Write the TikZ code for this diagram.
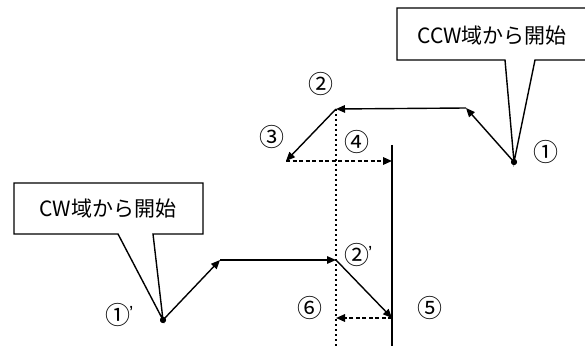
\documentclass[tikz,border=0pt]{standalone}
\usepackage{fontspec}
\setmainfont{Noto Sans CJK JP}
\newfontfamily\latinfont{Liberation Sans}
\usetikzlibrary{arrows.meta}
\newcommand{\primemark}{\kern-1pt\raisebox{5pt}{\latinfont\fontsize{19}{20}\selectfont ’}}
\tikzset{
  tip/.style={-{Triangle[length=9pt,width=7.5pt]}},
  solidline/.style={line width=1.4pt},
  dashline/.style={line width=1.6pt, dash pattern=on 4pt off 2.5pt},
  dotline/.style={line width=1.6pt, dash pattern=on 1.6pt off 3.4pt},
  callout/.style={draw, line width=1.4pt, fill=white, line join=miter},
  calltext/.style={font=\fontsize{21}{24}\selectfont, inner sep=0pt},
  numlabel/.style={font=\fontsize{25}{28}\selectfont, inner sep=0pt},
  dot/.style={circle, fill=black, inner sep=0pt, minimum size=6pt}
}
\begin{document}
\begin{tikzpicture}[x=1pt,y=-1pt]
\useasboundingbox (0,0) rectangle (585,347);
\begin{scope}
\clip (0,0) rectangle (585,347);
% points
\coordinate (p2) at (336,109);
\coordinate (c1) at (466,108);
\coordinate (p3) at (286,161);
\coordinate (w4) at (392,161);
\coordinate (q) at (220,260);
\coordinate (p2b) at (336,260);
\coordinate (w5) at (392,318);
\coordinate (p6) at (336,318);
\coordinate (walltop) at (392,145);
\coordinate (wallbot) at (392,346);
\coordinate (dotbot) at (336,346);
% wall and dotted line
\draw[solidline] (walltop) -- (wallbot);
\draw[dotline] (p2) -- (dotbot);
% callouts
\node[dot] (d1) at (514,162) {};
\node[dot] (d1b) at (163,320) {};
\draw[callout] (397,60) -- (505,60) -- (d1.center) -- (535,60) -- (600,60) -- (600,8) -- (397,8) -- cycle;
\node[calltext] (ccw) at (492,36) {CCW域から開始};
\draw[callout] (14,234) -- (118,234) -- (d1b.center) -- (153,234) -- (203,234) -- (203,183) -- (14,183) -- cycle;
\node[calltext] (cw) at (108,209) {CW域から開始};
\node[dot] at (514,162) {};
\node[dot] at (163,320) {};
% upper path
\draw[solidline, tip] (d1.center) -- (c1);
\draw[solidline, tip] (c1) -- (p2);
\draw[solidline, tip] (p2) -- (p3);
\draw[dashline, tip] (p3) -- (w4);
% lower path
\draw[solidline, tip] (d1b.center) -- (q);
\draw[solidline, tip] (q) -- (p2b);
\draw[solidline, tip] (p2b) -- (w5);
\draw[dashline, tip] (w5) -- (p6);
% labels
\node[numlabel] (l1) at (546,152) {①};
\node[numlabel] (l2) at (321,84) {②};
\node[numlabel] (l3) at (272,137) {③};
\node[numlabel] (l4) at (357,142) {④};
\node[numlabel, anchor=base west] (l2b) at (344,264) {②\primemark};
\node[numlabel] (l5) at (430,308) {⑤};
\node[numlabel] (l6) at (310,308) {⑥};
\node[numlabel, anchor=base west] (l1b) at (105,324) {①\primemark};
\end{scope}
\end{tikzpicture}
\end{document}
